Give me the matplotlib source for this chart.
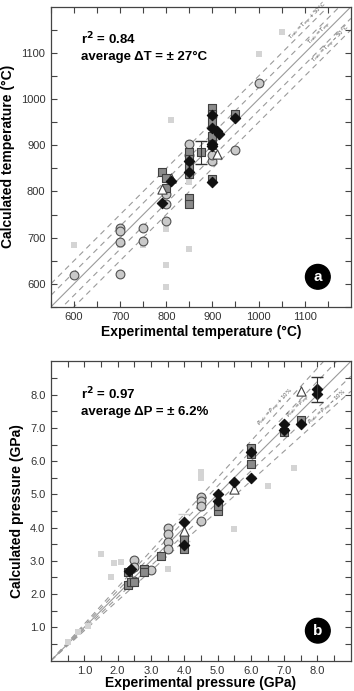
import matplotlib
matplotlib.use('Agg')
import matplotlib.pyplot as plt
import numpy as np

plt.rcParams['font.family'] = ['Liberation Sans', 'DejaVu Sans']

# --- panel a: temperature (°C) ---
t_circ_x = [600, 700, 700, 700, 700, 750, 750, 800, 800, 800, 850, 850, 900, 900, 950, 1000]
t_circ_y = [618, 720, 715, 690, 622, 720, 692, 795, 772, 735, 903, 880, 865, 880, 890, 1035]
t_sq_x = [790, 800, 800, 850, 850, 850, 850, 850, 850, 875, 900, 900, 900, 900, 900, 900, 950]
t_sq_y = [843, 830, 808, 885, 870, 850, 838, 785, 773, 885, 980, 968, 950, 920, 900, 826, 968]
t_dia_x = [790, 810, 850, 850, 900, 900, 910, 915, 900, 900, 900, 950]
t_dia_y = [776, 822, 865, 843, 966, 937, 930, 925, 903, 898, 821, 960]
t_tri_x = [790, 810, 910]
t_tri_y = [805, 830, 882]
t_lt_x = [1050, 1000, 810, 600, 700, 750, 800, 800, 800, 850, 850, 850]
t_lt_y = [1145, 1098, 955, 685, 683, 683, 718, 640, 592, 675, 830, 820]
t_err = (875, 885, 25)

# --- panel b: pressure (GPa) ---
p_circ_x = [2.5, 2.5, 2.5, 3.0, 3.5, 3.5, 3.5, 3.5, 4.5, 4.5, 4.5, 4.5]
p_circ_y = [3.04, 2.82, 2.40, 2.73, 4.00, 3.81, 3.58, 3.37, 4.92, 4.80, 4.65, 4.19]
p_sq_x = [2.3, 2.3, 2.4, 2.5, 2.8, 2.8, 3.3, 4.0, 4.0, 5.0, 5.0, 6.0, 6.0, 6.0, 7.0, 7.5]
p_sq_y = [2.66, 2.26, 2.35, 2.35, 2.77, 2.66, 3.14, 3.65, 3.37, 4.50, 4.65, 6.38, 6.20, 5.90, 6.88, 7.25]
p_dia_x = [2.35, 2.4, 4.0, 4.0, 5.0, 5.0, 5.5, 6.0, 6.0, 7.0, 7.0, 7.5, 8.0, 8.0]
p_dia_y = [2.70, 2.77, 4.17, 3.48, 5.00, 4.80, 5.36, 6.27, 5.48, 7.13, 6.93, 7.13, 8.18, 8.03]
p_tri_x = [4.0, 5.5, 7.5]
p_tri_y = [3.90, 5.15, 8.10]
p_lt_x = [5.5, 6.5, 3.5, 1.9, 2.1, 1.5, 1.8, 7.3, 4.5, 4.5, 0.5, 0.8, 1.1]
p_lt_y = [3.95, 5.25, 2.75, 2.95, 2.97, 3.22, 2.50, 5.80, 5.68, 5.50, 0.55, 0.85, 1.05]
p_err = (8.0, 8.15, 0.38)

fig = plt.figure(figsize=(3.54, 6.91), dpi=100)
ax1 = fig.add_axes([0.144, 0.556, 0.847, 0.434])
ax2 = fig.add_axes([0.144, 0.044, 0.847, 0.433])


def draw_markers(ax, cx, cy, sx, sy, dx, dy, tx, ty, lx, ly):
    ax.scatter(lx, ly, s=14, marker='s', color='#d4d4d4', zorder=3, linewidths=0)
    ax.scatter(cx, cy, s=40, marker='o', facecolor='#c9c9c9', edgecolor='#505050', linewidths=0.8, zorder=4)
    ax.scatter(sx, sy, s=36, marker='s', facecolor='#8a8a8a', edgecolor='#404040', linewidths=0.8, zorder=5)
    ax.scatter(tx, ty, s=44, marker='^', facecolor='white', edgecolor='#404040', linewidths=0.8, zorder=5)
    ax.scatter(dx, dy, s=28, marker='D', facecolor='#111111', edgecolor='#111111', linewidths=0.8, zorder=6)


def style_axes(ax):
    for s in ax.spines.values():
        s.set_color('#444444')
        s.set_linewidth(0.9)
    ax.tick_params(which='both', direction='in', top=True, right=True,
                   length=4, width=0.8, color='#444444', labelsize=8, labelcolor='#333333', pad=4)


# panel a
lo, hi = 550, 1200
xx = np.array([lo, hi])
ax1.plot(xx, xx, color='#9a9a9a', lw=0.8, zorder=1)
for d in [-50, -25, 25, 50]:
    ax1.plot(xx, xx + d, color='#9a9a9a', lw=0.8, ls=(0, (5, 4)), zorder=1)
draw_markers(ax1, t_circ_x, t_circ_y, t_sq_x, t_sq_y, t_dia_x, t_dia_y, t_tri_x, t_tri_y, t_lt_x, t_lt_y)
ax1.errorbar(t_err[0], t_err[1], yerr=t_err[2], fmt='none', ecolor='#333333', elinewidth=0.8, capsize=4, zorder=7)
ax1.set_xlim(lo, hi)
ax1.set_ylim(lo, hi)
ax1.set_xticks(np.arange(600, 1101, 100))
ax1.set_yticks(np.arange(600, 1101, 100))
ax1.set_xticks(np.arange(550, 1200, 50), minor=True)
ax1.set_yticks(np.arange(550, 1200, 50), minor=True)
style_axes(ax1)
ax1.set_xlabel('Experimental temperature (°C)', fontsize=10, fontweight='bold', labelpad=2)
ax1.set_ylabel('Calculated temperature (°C)', fontsize=10, fontweight='bold', labelpad=4)
ax1.text(0.1, 0.92, 'r$^\\mathbf{2}$ = 0.84\naverage ΔT = ± 27°C', transform=ax1.transAxes,
         fontsize=9.5, fontweight='bold', va='top', ha='left', linespacing=1.4)
ax1.text(1108, 1168, '$T_{calc} = T_{exp} + 50°C$', fontsize=4, rotation=45, color='#555555',
         ha='center', va='center', rotation_mode='anchor')
ax1.text(1133, 1142, '$T_{calc} = T_{exp}$', fontsize=4, rotation=45, color='#555555',
         ha='center', va='center', rotation_mode='anchor')
ax1.text(1158, 1118, '$T_{calc} = T_{exp} - 50°C$', fontsize=4, rotation=45, color='#555555',
         ha='center', va='center', rotation_mode='anchor')
ax1.text(0.89, 0.1, 'a', transform=ax1.transAxes, fontsize=11, fontweight='bold', color='white',
         ha='center', va='center', bbox=dict(boxstyle='circle,pad=0.35', fc='black', ec='black'))

# panel b
plo, phi = 0, 9
pp = np.array([plo, phi])
ax2.plot(pp, pp, color='#9a9a9a', lw=0.8, zorder=1)
for f in [0.9, 0.95, 1.05, 1.1]:
    ax2.plot(pp, pp * f, color='#9a9a9a', lw=0.8, ls=(0, (5, 4)), zorder=1)
draw_markers(ax2, p_circ_x, p_circ_y, p_sq_x, p_sq_y, p_dia_x, p_dia_y, p_tri_x, p_tri_y, p_lt_x, p_lt_y)
ax2.errorbar(p_err[0], p_err[1], yerr=p_err[2], fmt='none', ecolor='#333333', elinewidth=0.8, capsize=4, zorder=7)
ax2.errorbar(4.0, 4.0, yerr=0.4, fmt='none', ecolor='#cccccc', elinewidth=0.8, capsize=4, zorder=2)
ax2.set_xlim(plo, phi)
ax2.set_ylim(plo, phi)
ax2.set_xticks(np.arange(1, 9))
ax2.set_yticks(np.arange(1, 9))
ax2.set_xticklabels([f'{v:.1f}' for v in range(1, 9)])
ax2.set_yticklabels([f'{v:.1f}' for v in range(1, 9)])
ax2.set_xticks(np.arange(0.5, 9, 0.5), minor=True)
ax2.set_yticks(np.arange(0.5, 9, 0.5), minor=True)
style_axes(ax2)
ax2.set_xlabel('Experimental pressure (GPa)', fontsize=10, fontweight='bold', labelpad=0)
ax2.set_ylabel('Calculated pressure (GPa)', fontsize=10, fontweight='bold', labelpad=4)
ax2.text(0.1, 0.92, 'r$^\\mathbf{2}$ = 0.97\naverage ΔP = ± 6.2%', transform=ax2.transAxes,
         fontsize=9.5, fontweight='bold', va='top', ha='left', linespacing=1.4)
ax2.text(6.75, 7.6, '$P_{calc} = P_{exp} + 10\\%$', fontsize=4, rotation=47, color='#555555',
         ha='center', va='center', rotation_mode='anchor')
ax2.text(7.45, 7.65, '$P_{calc} = P_{exp}$', fontsize=4, rotation=45, color='#555555',
         ha='center', va='center', rotation_mode='anchor')
ax2.text(8.3, 7.6, '$P_{calc} = P_{exp} - 10\\%$', fontsize=4, rotation=42, color='#555555',
         ha='center', va='center', rotation_mode='anchor')
ax2.text(0.89, 0.1, 'b', transform=ax2.transAxes, fontsize=11, fontweight='bold', color='white',
         ha='center', va='center', bbox=dict(boxstyle='circle,pad=0.35', fc='black', ec='black'))

fig.savefig('out.png', dpi=100)
